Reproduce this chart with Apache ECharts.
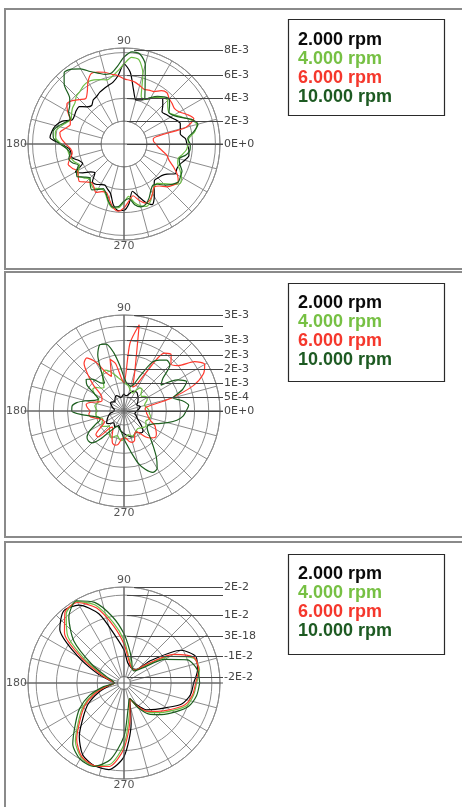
<!DOCTYPE html>
<html><head><meta charset="utf-8">
<script src="https://cdn.jsdelivr.net/npm/echarts@6/dist/echarts.min.js"></script>
<style>html,body{margin:0;padding:0;background:#fff}#c{width:462px;height:807px}</style>
</head><body><div id="c"></div>
<script>
// ---------- legend / series ----------
const seriesNames = ['2.000 rpm', '4.000 rpm', '6.000 rpm', '10.000 rpm'];
const lineColors = ['#000000', '#6dbf45', '#ff3a2e', '#1c5e1e'];
const textColors = ['#0a0a0a', '#76c043', '#f5372c', '#1d5a22'];

// ---------- sample angles (degrees) ----------
const angles5 = [0,5,10,15,20,25,30,35,40,45,50,55,60,65,70,75,80,85,90,95,100,105,110,115,
  120,125,130,135,140,145,150,155,160,165,170,175,180,185,190,195,200,205,210,215,220,225,230,235,
  240,245,250,255,260,265,270,275,280,285,290,295,300,305,310,315,320,325,330,335,340,345,350,355];
const angles10 = [0,10,20,30,40,50,60,70,80,90,100,110,120,130,140,150,160,170,
  180,190,200,210,220,230,240,250,260,270,280,290,300,310,320,330,340,350];

// ---------- panel 1 (units 1E-3) ----------
const p1_2000 = [5.5,5.4,5.0,5.1,5.24,5.0,4.7,4.5,4.34,4.8,5.25,5.0, 4.6,4.3,4.1,4.0,4.8,6.3,7.0,6.0,5.5,5.3,5.15,5.0,
  4.8,4.7,4.4,4.6,5.1,5.1,5.0,5.0,5.8,6.2,6.4,6.5, 5.5,4.8,4.7,4.7,4.2,4.0,4.9,4.4,3.8,3.6,4.3,4.3,
  4.1,3.97,4.2,4.5,5.4,5.85,5.8,5.2,4.2,4.7,5.4,5.85, 5.3,4.6,4.15,4.2,4.3,4.6,5.2,5.1,5.2,5.5,5.77,5.7];
const p1_4000 = [5.6,5.7,6.3,6.6,6.2,5.6,5.1,4.8,5.0,5.4,5.3,5.0, 4.7,4.3,4.4,6.4,7.5,7.6,7.0,6.4,6.0,5.8,6.0,6.2,
  6.3,6.2,6.0,5.9,5.6,5.5,5.3,5.1,5.4,5.8,6.1,6.0, 5.5,5.0,4.9,4.8,4.6,4.3,4.6,4.9,4.6,4.3,4.5,4.7,
  4.5,4.4,4.7,5.3,5.7,5.6,5.1,4.6,5.2,5.6,5.8,5.5, 5.0,4.6,4.5,4.9,5.5,6.0,5.8,5.4,5.0,4.9,5.2,5.5];
const p1_6000 = [2.8,2.6,2.6,5.6,6.5,6.1,5.6,5.4,5.5,5.6,5.85,5.7, 5.3,5.2,5.1,5.3,5.5,5.6,5.7,6.0,6.2,6.5,6.7,6.8,
  6.3,5.6,5.2,5.5,5.9,6.1,5.7,5.2,5.0,5.3,5.7,5.5, 5.1,4.7,4.6,4.9,5.2,5.0,4.7,4.9,5.1,4.7,4.4,4.6,
  4.9,4.6,4.5,5.0,5.6,5.9,5.6,5.0,4.6,5.1,5.5,5.4, 5.0,4.6,4.8,5.3,5.6,5.8,5.4,4.8,4.2,3.9,3.4,3.0];
const p1_10000 = [5.8,5.6,6.2,6.7,6.3,5.5,5.0,4.8,5.2,5.6,5.4,5.1, 4.7,4.3,5.4,7.2,8.0,8.1,7.6,6.8,6.3,6.3,6.6,7.0,
  7.6,8.0,8.15,7.4,6.2,5.8,5.6,5.2,5.5,6.0,6.3,6.2, 5.6,5.0,4.8,5.0,4.8,4.4,4.8,5.0,4.5,4.2,4.6,4.9,
  4.6,4.3,4.6,5.2,5.6,5.5,5.0,4.8,5.4,5.7,5.6,5.2, 4.7,4.4,4.6,5.1,5.5,5.8,5.7,5.6,5.2,5.0,5.5,5.8];
const p1TickLabels = ['0E+0', '2E-3', '4E-3', '6E-3', '8E-3'];
const p1TickValues = [0, 2, 4, 6, 8.2];

// ---------- panel 2 (units 1E-3) ----------
const p2_2000 = [0.45,0.5,0.55,0.6,0.55,0.5,0.55,0.6,0.65,0.7,0.75,0.8, 0.8,0.78,0.7,0.6,0.55,0.55,0.6,0.55,0.5,0.5,0.55,0.6,
  0.6,0.55,0.5,0.45,0.5,0.55,0.55,0.5,0.45,0.4,0.35,0.35, 0.35,0.4,0.5,0.55,0.6,0.65,0.7,0.75,0.7,0.6,0.55,0.6,
  0.65,0.6,0.55,0.6,0.7,0.75,0.8,0.85,0.9,0.95,0.95,0.9, 0.85,0.95,1.0,0.95,0.8,0.65,0.55,0.5,0.45,0.4,0.4,0.42];
const p2_4000 = [0.9,0.85,0.8,0.75,0.8,0.9,0.95,0.9,0.8,0.85,1.0,1.0, 0.85,0.7,0.75,0.8,0.9,0.95,1.0,1.1,1.2,1.35,1.5,1.6,
  1.5,1.3,1.1,1.15,1.3,1.35,1.2,1.0,0.95,1.0,1.05,1.0, 0.95,1.0,1.0,0.9,0.8,0.85,0.9,0.95,0.85,0.75,0.8,0.9,
  1.0,1.05,0.95,0.9,1.0,1.05,1.0,0.9,0.85,0.9,0.95,0.9, 0.85,0.8,0.8,0.85,0.9,0.95,0.9,0.85,0.9,0.95,0.95,0.9];
const p2_6000 = [0.8,0.75,0.8,1.7,2.6,3.1,3.3,3.05,2.5,2.35,2.6,2.5, 1.6,1.0,0.9,1.5,3.1,2.4,1.0,1.2,1.7,1.9,1.3,1.5,
  2.0,2.3,2.2,1.8,1.4,1.0,0.9,0.86,0.95,1.2,1.36,1.3, 1.2,1.25,1.2,1.0,0.85,0.8,0.8,1.0,1.3,1.3,0.8,0.7,
  0.8,1.0,1.2,1.25,1.2,1.0,0.95,0.98,1.1,1.15,1.1,0.9, 0.85,0.95,1.2,1.35,1.45,1.4,1.3,1.2,1.0,0.9,0.85,0.8];
const p2_10000 = [2.2,2.3,2.1,1.8,2.2,2.45,2.2,1.6,1.8,2.3,2.35,2.2, 2.0,1.4,1.0,0.9,0.95,1.0,1.2,1.6,2.1,2.45,2.5,2.2,
  1.6,1.2,1.3,1.6,1.75,1.6,1.2,1.0,1.1,1.4,1.7,1.85, 1.85,1.5,1.1,0.9,0.9,1.1,1.4,1.6,1.65,1.6,1.3,0.9,
  0.7,0.6,0.6,0.65,0.7,0.8,1.0,1.2,1.5,1.9,2.2,2.4, 2.35,2.0,1.6,1.3,1.1,1.0,1.0,1.1,1.3,1.6,1.9,2.1];
const p2TickLabels = ['0E+0', '5E-4', '1E-3', '2E-3', '2E-3', '3E-3', '', '3E-3'];
const p2TickValues = [0, 0.5, 1, 1.5, 2, 2.5, 3, 3.4];

// ---------- panel 3 (units 1E-2) ----------
const p3_2000 = [1.1,1.35,1.45,0.9,-0.6,-1.45,-1.5,-1.45,-1.3,-0.7,0.0,1.3,2.1,2.3,1.8,0.3,-0.9,-1.6,
  -1.85,-1.6,-1.0,-0.3,0.3,1.1,1.75,2.0,2.0,1.3,-0.3,-1.5,-1.1,-0.6,-0.3,0.1,0.7,1.0];
const p3_4000 = [1.25,1.45,1.3,0.3,-1.0,-1.5,-1.5,-1.35,-1.0,-0.2,0.7,1.75,2.3,2.1,1.3,-0.2,-1.2,-1.7,
  -1.85,-1.45,-0.7,0.0,0.6,1.4,1.9,2.0,1.75,0.7,-0.8,-1.5,-0.95,-0.45,-0.05,0.4,0.95,1.15];
const p3_6000 = [1.2,1.4,1.35,0.5,-0.9,-1.5,-1.5,-1.4,-1.1,-0.4,0.5,1.6,2.25,2.2,1.5,0.0,-1.1,-1.65,
  -1.85,-1.5,-0.8,-0.1,0.5,1.3,1.85,2.0,1.85,0.9,-0.6,-1.5,-1.0,-0.5,-0.15,0.3,0.85,1.1];
const p3_10000 = [1.4,1.35,1.0,0.0,-1.2,-1.55,-1.5,-1.2,-0.7,0.1,1.0,1.9,2.35,1.9,0.9,-0.5,-1.4,-1.75,
  -1.85,-1.3,-0.5,0.2,0.8,1.6,2.0,2.05,1.5,0.3,-1.1,-1.5,-0.9,-0.3,0.1,0.55,1.05,1.3];
const p3TickLabels = ['-2E-2', '-1E-2', '3E-18', '1E-2', '', '2E-2'];
const p3TickValues = [-2, -1, 0, 1, 2, 2.4];

const panels = [
  { angles: angles5, data: [p1_2000, p1_4000, p1_6000, p1_10000], min: 2, max: 8.4, interval: 2,
    labels: p1TickLabels, values: p1TickValues },
  { angles: angles5, data: [p2_2000, p2_4000, p2_6000, p2_10000], min: 0, max: 3.4, interval: 0.5,
    labels: p2TickLabels, values: p2TickValues },
  { angles: angles10, data: [p3_2000, p3_4000, p3_6000, p3_10000], min: -2, max: 2.4, interval: 1,
    labels: p3TickLabels, values: p3TickValues }
];

// ---------- layout ----------
const R = 96;
const centers = [[124, 144], [124, 411], [124, 683]];
const innerR = [R * 2 / 8.4, 0, 6.5];
const panelRects = [[5, 9, 470, 260], [5, 272, 470, 265], [5, 542, 470, 280]];
const legendRects = [[288, 19, 156, 96], [288, 283, 156, 98], [288, 554, 156, 100]];
const legendTops = [26, 289, 560];
const gridColor = '#8c8c8c';
const labelFont = '11px "DejaVu Sans"';

const chart = echarts.init(document.getElementById('c'), null, { renderer: 'canvas' });

const polar = panels.map((p, i) => ({ center: centers[i], radius: [innerR[i], R] }));
const angleAxis = panels.map((p, i) => ({
  polarIndex: i, type: 'value', min: 0, max: 360, interval: 15, startAngle: 0, clockwise: false,
  axisLine: { show: true, lineStyle: { color: gridColor, width: 1 } },
  axisTick: { show: false },
  splitLine: { show: true, lineStyle: { color: gridColor, width: 1 } },
  axisLabel: {
    show: true, margin: 1, color: '#555', fontSize: 11, fontFamily: 'DejaVu Sans',
    formatter: v => (v === 90 || v === 180 || v === 270) ? String(v) : ''
  }
}));
const radiusAxis = panels.map((p, i) => ({
  polarIndex: i, type: 'value', min: p.min, max: p.max, interval: p.interval,
  axisLine: { show: false }, axisTick: { show: false }, axisLabel: { show: false },
  splitLine: { show: true, lineStyle: { color: gridColor, width: 1 } }
}));

const series = [];
panels.forEach((p, i) => {
  p.data.forEach((vals, k) => {
    const d = vals.map((r, j) => [r, p.angles[j]]);
    d.push([vals[0], 360]);
    series.push({
      name: seriesNames[k], type: 'line', coordinateSystem: 'polar', polarIndex: i,
      data: d, smooth: 0.25, showSymbol: false, symbol: 'none', animation: false,
      lineStyle: { color: lineColors[k], width: 1.2 }, itemStyle: { color: lineColors[k] }, z: 3 + k
    });
  });
});

const legend = panels.map((p, i) => ({
  left: 288, top: legendTops[i], orient: 'vertical', itemWidth: 0, itemHeight: 0, itemGap: 0,
  padding: 5, selectedMode: false, icon: 'rect',
  data: seriesNames.map((n, k) => ({ name: n, textStyle: { color: textColors[k] } })),
  textStyle: { fontSize: 18, fontWeight: 'bold', fontFamily: '"Liberation Sans", Arial, sans-serif', lineHeight: 19 },
  z: 20
}));

chart.setOption({ animation: false, backgroundColor: '#ffffff', polar, angleAxis, radiusAxis, series, legend });

// ---------- decorations: borders, crosshair, leader lines ----------
function toPx(i, v, ang) {
  let pt = null;
  try { pt = chart.convertToPixel({ seriesIndex: i * 4 }, [v, ang]); } catch (e) { pt = null; }
  if (!pt) {
    const p = panels[i];
    const r = innerR[i] + (v - p.min) * (R - innerR[i]) / (p.max - p.min);
    const a = ang * Math.PI / 180;
    pt = [centers[i][0] + r * Math.cos(a), centers[i][1] - r * Math.sin(a)];
  }
  return pt;
}

const graphic = [];
panelRects.forEach(r => graphic.push({
  type: 'rect', shape: { x: r[0], y: r[1], width: r[2], height: r[3] },
  style: { fill: 'none', stroke: '#8a8a8a', lineWidth: 2 }, z: 0, silent: true
}));
legendRects.forEach(r => graphic.push({
  type: 'rect', shape: { x: r[0] + 0.5, y: r[1] + 0.5, width: r[2], height: r[3] },
  style: { fill: 'none', stroke: '#2a2a2a', lineWidth: 1.2 }, z: 15, silent: true
}));
const labelRight = 223;
panels.forEach((p, i) => {
  const top = toPx(i, p.max, 90), bot = toPx(i, p.max, 270), left = toPx(i, p.max, 180);
  const cx = top[0], cy = left[1];
  graphic.push({ type: 'line', shape: { x1: cx, y1: top[1], x2: cx, y2: bot[1] },
    style: { stroke: '#555', lineWidth: 1 }, z: 12, silent: true });
  graphic.push({ type: 'line', shape: { x1: left[0] - 4, y1: cy, x2: labelRight, y2: cy },
    style: { stroke: '#555', lineWidth: 1 }, z: 12, silent: true });
  p.values.forEach((v, j) => {
    const y = Math.round(toPx(i, v, 90)[1]) + 0.5;
    const x0 = (j === p.values.length - 1) ? cx + 10 : cx + 3;
    graphic.push({ type: 'line', shape: { x1: x0, y1: y, x2: labelRight, y2: y },
      style: { stroke: '#444', lineWidth: 1 }, z: 12, silent: true });
    if (p.labels[j]) graphic.push({ type: 'text', x: labelRight + 1, y: y,
      style: { text: p.labels[j], fill: '#444', font: labelFont, verticalAlign: 'middle', align: 'left' },
      z: 13, silent: true });
  });
});
chart.setOption({ graphic });
</script>
</body></html>
